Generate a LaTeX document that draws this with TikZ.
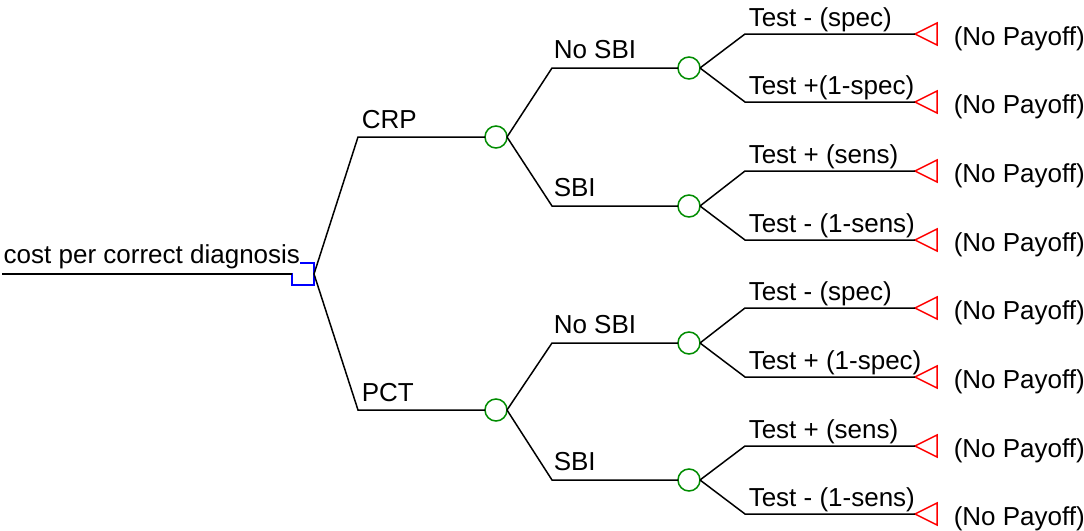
\documentclass[tikz,border=0pt]{standalone}
\usepackage{fontspec}
\setmainfont{Liberation Sans}
\usetikzlibrary{shapes.geometric}

\definecolor{verde}{RGB}{0,140,0}
\definecolor{azul}{RGB}{0,0,255}
\definecolor{vermelho}{RGB}{255,0,0}

\begin{document}
\begin{tikzpicture}[x=0.5pt, y=-0.5pt, line width=0.75pt,
    font=\fontsize{13}{15}\selectfont,
    decisao/.style={draw=azul, rectangle, minimum size=11pt, inner sep=0pt, outer sep=0pt},
    acaso/.style={draw=verde, circle, minimum size=11pt, inner sep=0pt, outer sep=0pt},
    final/.style={draw=vermelho, isosceles triangle, isosceles triangle stretches,
        shape border rotate=180, minimum width=11pt, minimum height=11pt,
        inner sep=0pt, outer sep=0pt, anchor=apex},
    rotulo/.style={anchor=base west, inner sep=0pt}]

    \useasboundingbox (0,0) rectangle (1084,531);

    % Raiz e nó de decisão
    \coordinate (ini) at (2,274);
    \node[decisao] (dec) at (303,274) {};
    \node[rotulo, fill=white, inner ysep=2.4pt] (custo) at (3,263) {cost per correct diagnosis};
    \draw (ini) -- (dec.west);

    % Primeiro nível: CRP e PCT
    \node[acaso] (crp) at (496,137) {};
    \node[acaso] (pct) at (496,410) {};
    \coordinate (bcrp) at (358,137);
    \coordinate (bpct) at (358,410);
    \draw (dec.east) -- (bcrp) -- (crp.west);
    \draw (dec.east) -- (bpct) -- (pct.west);
    \node[rotulo] (lcrp) at (361,128) {CRP};
    \node[rotulo] (lpct) at (361,401) {PCT};

    % Segundo nível: No SBI e SBI
    \foreach \pai/\nome/\y/\txt in {crp/a1/68/No SBI, crp/a2/206/SBI,
                                    pct/a3/343/No SBI, pct/a4/480/SBI} {
        \node[acaso] (\nome) at (689,\y) {};
        \coordinate (b\nome) at (552,\y);
        \draw (\pai.east) -- (b\nome) -- (\nome.west);
        \node[rotulo] at (553,\y-10) {\txt};
    }

    % Folhas (testes)
    \foreach \pai/\nome/\y/\txt in {a1/f1/34/{Test - (spec)}, a1/f2/102/{Test +(1-spec)},
                                    a2/f3/171/{Test + (sens)}, a2/f4/240/{Test - (1-sens)},
                                    a3/f5/308/{Test - (spec)}, a3/f6/377/{Test + (1-spec)},
                                    a4/f7/446/{Test + (sens)}, a4/f8/514/{Test - (1-sens)}} {
        \node[final] (\nome) at (915,\y) {};
        \coordinate (b\nome) at (745,\y);
        \draw (\pai.east) -- (b\nome) -- (\nome.apex);
        \node[rotulo] at (748,\y-8) {\txt};
        \node[rotulo] at (953,\y+11) {(No Payoff)};
    }

\end{tikzpicture}
\end{document}
